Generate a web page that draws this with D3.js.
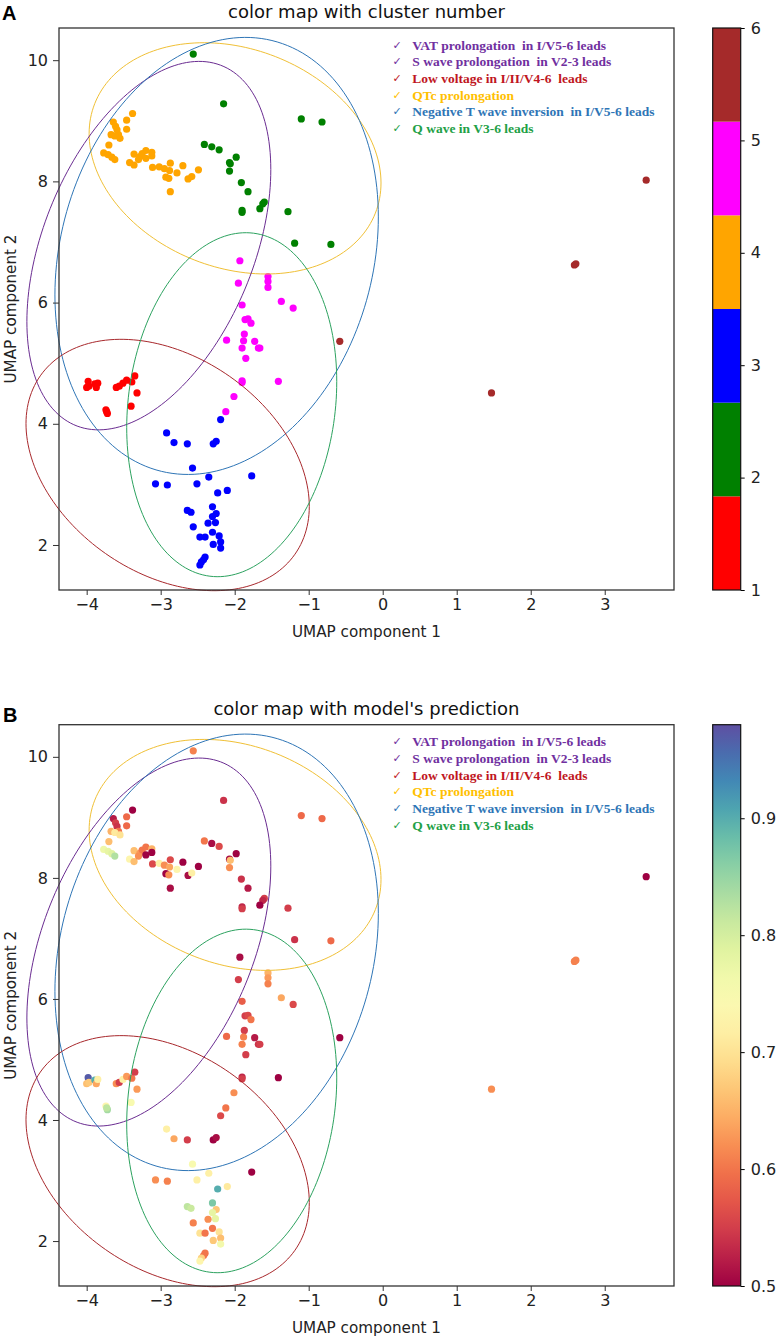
<!DOCTYPE html>
<html><head><meta charset="utf-8">
<script src="https://cdn.jsdelivr.net/npm/d3@7"></script>
<style>body{margin:0;background:#fff} svg{display:block}</style>
</head><body><svg id="c" width="780" height="1340"></svg>
<script>
// ---------------- data ----------------
const umapX = [
-3.98,-4.00,-3.97,-3.89,-3.87,-3.85,-3.60,-3.56,-3.51,-3.46,-3.39,-3.35,-3.32,-3.40,-3.74,-3.72,-3.73,
-2.56,-2.15,-1.10,-0.82,-2.41,-2.31,-2.21,-1.98,-2.07,-2.06,-2.07,-1.91,-1.82,-1.60,-1.62,-1.66,-1.90,-1.90,-1.28,-1.19,-0.70,
-2.19,-2.92,-2.82,-2.64,-2.29,-2.25,-2.57,-2.35,-1.77,-3.07,-2.91,-2.51,-2.10,-2.23,-2.64,-2.59,-2.30,-2.25,-2.30,-2.26,-2.36,-2.56,-2.30,-2.21,-2.47,-2.40,-2.19,-2.29,-2.19,-2.40,-2.42,-2.45,-2.47,
-3.38,-3.46,-3.64,-3.61,-3.59,-3.46,-3.57,-3.67,-3.62,-3.55,-3.70,-3.77,-3.71,-3.66,-3.62,-3.42,-3.36,-3.36,-3.28,-3.25,-3.20,-3.12,-3.20,-3.12,-3.11,-3.02,-2.95,-2.87,-2.88,-2.93,-2.89,-2.78,-2.70,-2.63,-2.58,-2.49,-2.87,-3.30,
-1.93,-1.95,-1.55,-1.55,-1.55,-1.37,-1.21,-1.90,-1.86,-1.82,-1.78,-1.87,-2.11,-1.88,-1.73,-1.68,-1.66,-1.90,-1.85,-1.90,-1.90,-1.41,-2.01,-2.12,
-0.58,3.56,2.59,2.61,1.47];
const umapY = [
4.70,4.60,4.62,4.66,4.60,4.67,4.60,4.62,4.67,4.72,4.69,4.79,4.51,4.29,4.23,4.17,4.20,
10.10,9.28,9.03,8.98,8.61,8.57,8.52,8.40,8.31,8.29,8.17,7.98,7.83,7.66,7.63,7.55,7.52,7.49,7.50,6.98,6.96,
4.07,3.85,3.69,3.67,3.67,3.71,3.27,3.12,3.14,3.01,2.99,3.01,2.90,2.86,2.57,2.54,2.63,2.52,2.47,2.37,2.36,2.30,2.21,2.15,2.13,2.13,2.05,2.01,1.95,1.80,1.76,1.72,1.67,
9.12,9.01,8.98,8.91,8.85,8.86,8.77,8.77,8.75,8.71,8.60,8.47,8.44,8.40,8.36,8.31,8.27,8.45,8.41,8.46,8.51,8.48,8.38,8.42,8.23,8.24,8.21,8.30,8.18,8.07,8.05,8.14,8.26,8.04,8.08,8.19,7.83,8.36,
6.69,6.32,6.43,6.35,6.25,6.02,5.91,5.96,5.72,5.73,5.66,5.48,5.38,5.37,5.36,5.25,5.25,5.25,5.08,4.71,4.68,4.70,4.45,4.20,
5.36,8.02,6.62,6.64,4.51];
const clusterId = [
1,1,1,1,1,1,1,1,1,1,1,1,1,1,1,1,1,
2,2,2,2,2,2,2,2,2,2,2,2,2,2,2,2,2,2,2,2,2,
3,3,3,3,3,3,3,3,3,3,3,3,3,3,3,3,3,3,3,3,3,3,3,3,3,3,3,3,3,3,3,3,3,
4,4,4,4,4,4,4,4,4,4,4,4,4,4,4,4,4,4,4,4,4,4,4,4,4,4,4,4,4,4,4,4,4,4,4,4,4,4,
5,5,5,5,5,5,5,5,5,5,5,5,5,5,5,5,5,5,5,5,5,5,5,5,
6,6,6,6,6];
const prediction = [
0.97,0.66,0.67,0.90,0.64,0.72,0.62,0.55,0.72,0.63,0.60,0.55,0.63,0.75,0.73,0.84,0.82,
0.61,0.54,0.59,0.59,0.60,0.51,0.56,0.50,0.51,0.66,0.62,0.54,0.52,0.55,0.53,0.50,0.53,0.55,0.55,0.54,0.59,
0.56,0.72,0.64,0.55,0.50,0.51,0.75,0.72,0.50,0.62,0.61,0.72,0.71,0.90,0.82,0.81,0.87,0.67,0.78,0.78,0.62,0.61,0.60,0.70,0.70,0.60,0.66,0.67,0.76,0.60,0.60,0.68,0.73,
0.50,0.59,0.52,0.55,0.54,0.59,0.60,0.65,0.71,0.70,0.66,0.77,0.78,0.79,0.83,0.73,0.66,0.66,0.63,0.60,0.60,0.65,0.50,0.50,0.56,0.72,0.62,0.56,0.64,0.50,0.62,0.73,0.50,0.51,0.72,0.50,0.51,0.62,
0.51,0.55,0.65,0.63,0.61,0.64,0.56,0.58,0.55,0.56,0.60,0.55,0.59,0.61,0.52,0.54,0.55,0.61,0.55,0.53,0.55,0.50,0.62,0.60,
0.50,0.50,0.61,0.61,0.62];

const xTicks = [-4,-3,-2,-1,0,1,2,3];
const yTicks = [2,4,6,8,10];
const clusterTicks = [1,2,3,4,5,6];
const predTicks = [0.5,0.6,0.7,0.8,0.9];
const panelTitles = ["color map with cluster number", "color map with model's prediction"];
const panelLetters = ["A","B"];
const legendLabels = ["VAT prolongation  in I/V5-6 leads","S wave prolongation  in V2-3 leads","Low voltage in I/II/V4-6  leads","QTc prolongation","Negative T wave inversion  in I/V5-6 leads","Q wave in V3-6 leads"];

// annotation ellipses (data units): centre, half extents, x-shift of topmost point
const ellipseName = ["QTc","VAT/S wave","Negative T","Low voltage","Q wave"];
const ellipseCx = [-1.995,-3.16,-2.244,-2.906,-2.04];
const ellipseCy = [8.38,6.94,6.77,3.32,4.315];
const ellipseHalfW = [1.972,1.648,2.185,1.914,1.419];
const ellipseHalfH = [1.908,3.04,3.606,2.074,2.838];
const ellipseTopShift = [-0.42,0.68,0.39,-0.63,0.19];

// ---------------- styles ----------------
const clusterColors = ["#ff0000","#008000","#0000ff","#ffa500","#ff00ff","#a52a2a"];
const legendColors = ["#7030a0","#7030a0","#c0161e","#ffc000","#2e75b6","#22a046"];
const ellipseColors = ["#f0c036","#6a2c91","#2e75b6","#a8282c","#2ca25f"];
const FONT = "'DejaVu Sans','Noto Sans',sans-serif";

const svg = d3.select("#c");
const L = 59, R = 674;
const panels = [{top:28,bottom:590,letterY:20,titleY:18,letterX:2},
                {top:724.7,bottom:1286,letterY:721.5,titleY:714.5,letterX:3}];

const x = d3.scaleLinear().domain([-4.374,3.936]).range([L,R]);
const clusterColor = d3.scaleQuantize().domain([1,6]).range(clusterColors);
const predColor = d3.scaleSequential(d3.interpolateSpectral).domain([0.5,0.98]);

const idx = d3.range(umapX.length);

panels.forEach((p,pi)=>{
  const y = d3.scaleLinear().domain([1.2574,10.531]).range([p.bottom,p.top]);
  const g = svg.append("g");

  // points
  g.append("g").selectAll("circle").data(idx).join("circle")
    .attr("cx", i=>x(umapX[i])).attr("cy", i=>y(umapY[i])).attr("r",3.6)
    .attr("fill", i=> pi===0 ? clusterColor(clusterId[i]) : predColor(prediction[i]));

  // ellipses
  ellipseCx.forEach((cx,k)=>{
    const W = ellipseHalfW[k], H = ellipseHalfH[k];
    const phi = Math.asin(ellipseTopShift[k]/W);
    const pts = d3.range(0,361,2).map(a=>{const t=a*Math.PI/180;
      return [x(cx+W*Math.cos(t)), y(ellipseCy[k]+H*Math.sin(t+phi))];});
    g.append("path").attr("d", d3.line()(pts)+"Z").attr("fill","none")
      .attr("stroke", ellipseColors[k]).attr("stroke-width",1);
  });

  // frame
  g.append("rect").attr("x",L).attr("y",p.top).attr("width",R-L).attr("height",p.bottom-p.top)
    .attr("fill","none").attr("stroke","#333").attr("stroke-width",1.3);

  // axes
  const xa = g.append("g").attr("transform",`translate(0,${p.bottom})`)
    .call(d3.axisBottom(x).tickValues(xTicks).tickSize(5).tickPadding(4));
  const ya = g.append("g").attr("transform",`translate(${L},0)`)
    .call(d3.axisLeft(y).tickValues(yTicks).tickSize(6).tickPadding(5));
  [xa,ya].forEach(a=>{a.select(".domain").remove();
    a.selectAll("line").attr("stroke","#333").attr("stroke-width",1);
    a.selectAll("text").attr("font-family",FONT).attr("font-size",16).attr("fill","#222");});

  // axis labels
  g.append("text").attr("x",(L+R)/2).attr("y",p.bottom+47).attr("text-anchor","middle")
    .attr("font-family",FONT).attr("font-size",15.2).attr("fill","#222").text("UMAP component 1");
  g.append("text").attr("transform",`translate(16,${(p.top+p.bottom)/2}) rotate(-90)`)
    .attr("text-anchor","middle").attr("font-family",FONT).attr("font-size",15.2).attr("fill","#222")
    .text("UMAP component 2");

  // title & letter
  g.append("text").attr("x",(L+R)/2).attr("y",p.titleY).attr("text-anchor","middle")
    .attr("font-family",FONT).attr("font-size",18).attr("fill","#111").text(panelTitles[pi]);
  g.append("text").attr("x",p.letterX).attr("y",p.letterY)
    .attr("font-family","'Liberation Sans',Arial,sans-serif").attr("font-weight","bold")
    .attr("font-size",20).attr("fill","#000").text(panelLetters[pi]);

  // legend
  const lg = g.append("g");
  legendLabels.forEach((t,k)=>{
    const yy = p.top + 21.5 + k*16.7;
    lg.append("text").attr("x",392.5).attr("y",yy-1).attr("font-family","'DejaVu Sans',sans-serif")
      .attr("font-size",11).attr("fill",legendColors[k]).text("\u2713");
    lg.append("text").attr("x",412.3).attr("y",yy).attr("font-family","'Liberation Serif','Times New Roman',serif")
      .attr("font-weight","bold").attr("font-size",13.5).attr("fill",legendColors[k])
      .style("white-space","pre").text(t);
  });

  // colorbar
  const cbX = 712.7, cbW = 28;
  const cb = g.append("g");
  if(pi===0){
    const cy = d3.scaleLinear().domain([1,6]).range([p.bottom,p.top]);
    const step = 5/6;
    clusterColors.forEach((c,k)=>{
      cb.append("rect").attr("x",cbX).attr("width",cbW)
        .attr("y",cy(1+(k+1)*step)).attr("height",cy(1+k*step)-cy(1+(k+1)*step)).attr("fill",c);
    });
    cb.append("g").attr("transform",`translate(${cbX+cbW},0)`)
      .call(d3.axisRight(cy).tickValues(clusterTicks).tickSize(4).tickPadding(6).tickFormat(d3.format("d")))
      .call(a=>{a.select(".domain").remove();a.selectAll("line").attr("stroke","#000");
        a.selectAll("text").attr("font-family",FONT).attr("font-size",16).attr("fill","#222");});
  } else {
    const cy = d3.scaleLinear().domain([0.5,0.98]).range([p.bottom,p.top]);
    const grad = svg.append("defs").append("linearGradient").attr("id","spec")
      .attr("x1",0).attr("y1",1).attr("x2",0).attr("y2",0);
    d3.range(0,1.0001,0.05).forEach(t=>grad.append("stop").attr("offset",t)
      .attr("stop-color",predColor(0.5+t*0.48)));
    cb.append("rect").attr("x",cbX).attr("y",p.top).attr("width",cbW).attr("height",p.bottom-p.top)
      .attr("fill","url(#spec)");
    cb.append("g").attr("transform",`translate(${cbX+cbW},0)`)
      .call(d3.axisRight(cy).tickValues(predTicks).tickSize(4).tickPadding(6).tickFormat(d3.format(".1f")))
      .call(a=>{a.select(".domain").remove();a.selectAll("line").attr("stroke","#000");
        a.selectAll("text").attr("font-family",FONT).attr("font-size",16).attr("fill","#222");});
  }
  cb.append("rect").attr("x",cbX).attr("y",p.top).attr("width",cbW).attr("height",p.bottom-p.top)
    .attr("fill","none").attr("stroke","#111").attr("stroke-width",1.2);
});
</script></body></html>
